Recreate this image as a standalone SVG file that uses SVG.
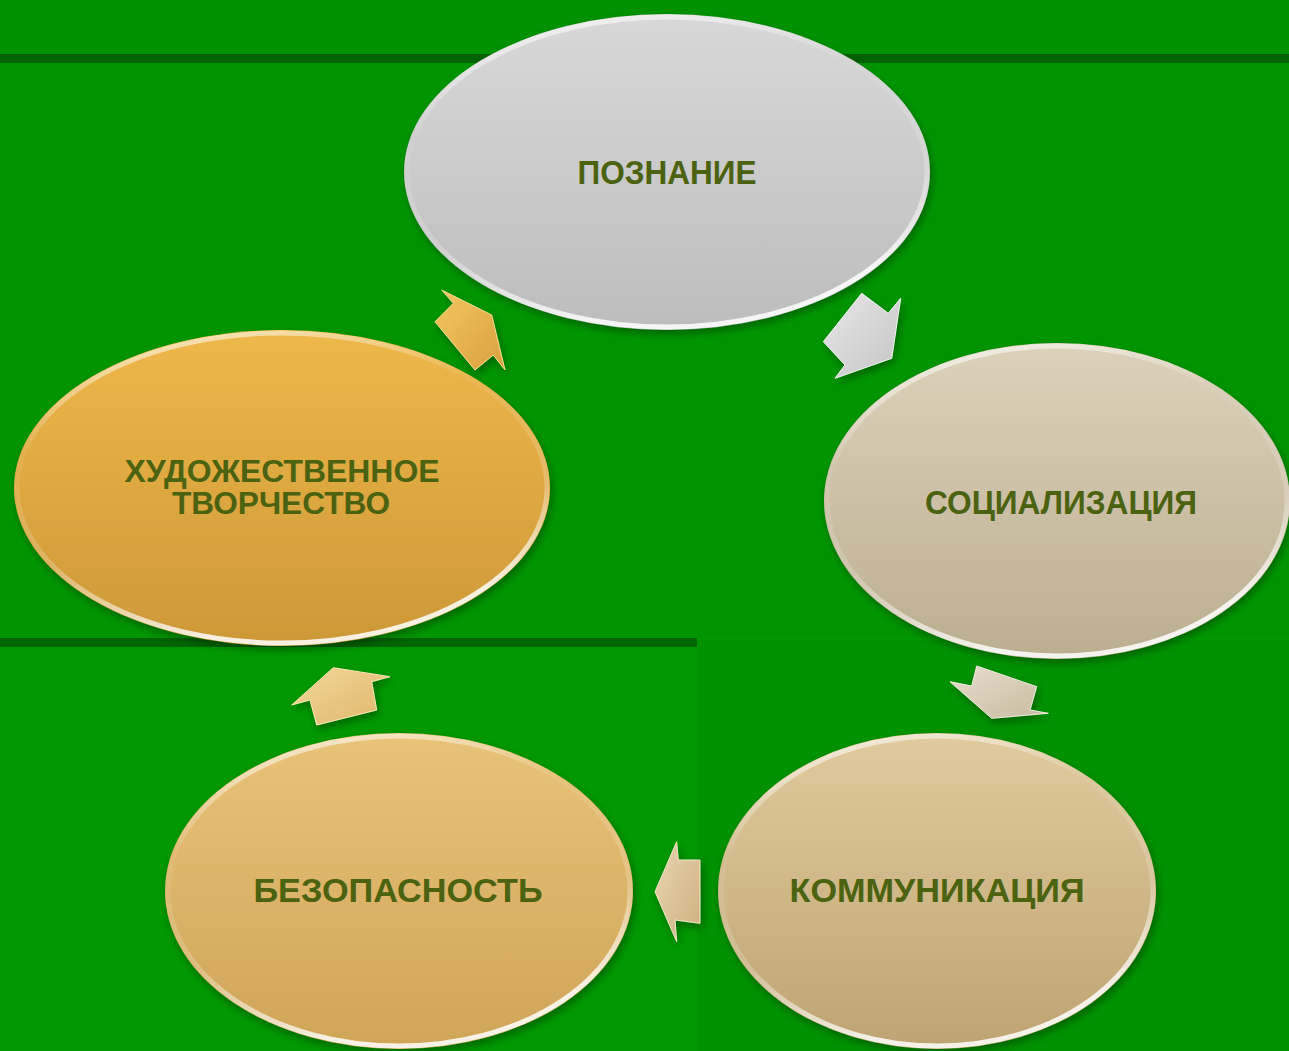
<svg xmlns="http://www.w3.org/2000/svg" width="1289" height="1051" viewBox="0 0 1289 1051">
<style>
.lbl{font-family:"Liberation Sans",Arial,sans-serif;font-weight:bold;font-size:33px;fill:#4b6210;text-anchor:middle;dominant-baseline:central}
.lbl2{font-family:"Liberation Sans",Arial,sans-serif;font-weight:bold;font-size:31px;fill:#4b6210;text-anchor:middle}
.rim{fill:none;stroke:url(#rimG);stroke-width:5}
.arr{filter:url(#sh)}
</style>
<defs>
<filter id="sh" x="-20%" y="-20%" width="140%" height="140%">
<feGaussianBlur in="SourceAlpha" stdDeviation="4"/>
<feOffset dx="2" dy="4" result="b"/>
<feComponentTransfer><feFuncA type="linear" slope="0.35"/></feComponentTransfer>
<feMerge><feMergeNode/><feMergeNode in="SourceGraphic"/></feMerge>
</filter>
<linearGradient id="rimG" x1="0" y1="0" x2="0.3" y2="1">
<stop offset="0" stop-color="#ffffff" stop-opacity="0.8"/>
<stop offset="0.35" stop-color="#ffffff" stop-opacity="0.05"/>
<stop offset="0.7" stop-color="#ffffff" stop-opacity="0.2"/>
<stop offset="1" stop-color="#ffffff" stop-opacity="0.85"/>
</linearGradient>
<linearGradient id="gGray" x1="0" y1="0" x2="0" y2="1">
<stop offset="0" stop-color="#d8d8d8"/><stop offset="1" stop-color="#bdbdbd"/>
</linearGradient>
<linearGradient id="gSoc" x1="0" y1="0" x2="0" y2="1">
<stop offset="0" stop-color="#dcd1bb"/><stop offset="1" stop-color="#bcae90"/>
</linearGradient>
<linearGradient id="gKom" x1="0" y1="0" x2="0" y2="1">
<stop offset="0" stop-color="#e0cb9e"/><stop offset="1" stop-color="#bea472"/>
</linearGradient>
<linearGradient id="gBez" x1="0" y1="0" x2="0" y2="1">
<stop offset="0" stop-color="#e9c379"/><stop offset="1" stop-color="#cfa558"/>
</linearGradient>
<linearGradient id="gHud" x1="0" y1="0" x2="0" y2="1">
<stop offset="0" stop-color="#eeb84a"/><stop offset="1" stop-color="#cd9838"/>
</linearGradient>
<linearGradient id="aGray" x1="0" y1="0" x2="1" y2="1">
<stop offset="0" stop-color="#e8e8e8"/><stop offset="1" stop-color="#c4c4c4"/>
</linearGradient>
<linearGradient id="aSoc" x1="0" y1="0" x2="1" y2="1">
<stop offset="0" stop-color="#e6ddcc"/><stop offset="1" stop-color="#c8bba0"/>
</linearGradient>
<linearGradient id="aKom" x1="0" y1="0" x2="1" y2="1">
<stop offset="0" stop-color="#ead6b0"/><stop offset="1" stop-color="#cdb080"/>
</linearGradient>
<linearGradient id="aBez" x1="0" y1="0" x2="1" y2="1">
<stop offset="0" stop-color="#f4d89a"/><stop offset="1" stop-color="#deb66a"/>
</linearGradient>
<linearGradient id="aHud" x1="0" y1="0" x2="1" y2="1">
<stop offset="0" stop-color="#f4c860"/><stop offset="1" stop-color="#d8a040"/>
</linearGradient>
</defs>

<g id="background">
<rect x="0" y="0" width="1289" height="1051" fill="#009800"/>
<rect x="0" y="0" width="1289" height="54" fill="#009200"/>
<rect x="0" y="54" width="1289" height="9" fill="#006200"/>
<rect x="0" y="63" width="1289" height="575" fill="#009500"/>
<rect x="0" y="638" width="697" height="9" fill="#006400"/>
<rect x="697" y="640" width="592" height="411" fill="#009200"/>
</g>

<g id="connectors">
<polygon class="arr" fill="url(#aHud)" stroke="#f8dc90" stroke-width="1" points="441.7,290 491.7,315 505,370 493.3,355 475,370 435,321.7 453.3,303.3"/>
<polygon class="arr" fill="url(#aGray)" stroke="#f4f4f4" stroke-width="1" points="861.7,293.3 888.3,313.3 900.7,298.3 891.7,358.3 835,378.3 845,365 823.3,341.7"/>
<polygon class="arr" fill="url(#aSoc)" stroke="#f0ebe0" stroke-width="1" points="950,681.7 971.7,686 976.7,666 1036.7,686.7 1030,710 1048.3,713.3 991.7,718.3"/>
<polygon class="arr" fill="url(#aKom)" stroke="#f4e6c8" stroke-width="1" points="676.7,841.7 678.3,860 700,860 700,923.3 675,920 676.7,941.7 655,891.7"/>
<polygon class="arr" fill="url(#aBez)" stroke="#fae6b8" stroke-width="1" points="291.7,705 310,700 316.7,725 376.7,710 371.7,681.7 390,676.7 333.3,667.7"/>
</g>

<g id="node-poznanie">
<ellipse cx="667" cy="172" rx="263" ry="158" fill="url(#gGray)" filter="url(#sh)"/>
<ellipse class="rim" cx="667" cy="172" rx="260" ry="155"/>
<text class="lbl" x="667" y="172" textLength="179" lengthAdjust="spacingAndGlyphs">ПОЗНАНИЕ</text>
</g>

<g id="node-socializacia">
<ellipse cx="1057" cy="501" rx="233" ry="158" fill="url(#gSoc)" filter="url(#sh)"/>
<ellipse class="rim" cx="1057" cy="501" rx="230" ry="155"/>
<text class="lbl" x="1061" y="502" textLength="272" lengthAdjust="spacingAndGlyphs">СОЦИАЛИЗАЦИЯ</text>
</g>

<g id="node-kommunikacia">
<ellipse cx="937" cy="891" rx="219" ry="158" fill="url(#gKom)" filter="url(#sh)"/>
<ellipse class="rim" cx="937" cy="891" rx="216" ry="155"/>
<text class="lbl" x="937" y="890" textLength="295" lengthAdjust="spacingAndGlyphs">КОММУНИКАЦИЯ</text>
</g>

<g id="node-bezopasnost">
<ellipse cx="399" cy="891" rx="234" ry="158" fill="url(#gBez)" filter="url(#sh)"/>
<ellipse class="rim" cx="399" cy="891" rx="231" ry="155"/>
<text class="lbl" x="398" y="890" textLength="289" lengthAdjust="spacingAndGlyphs">БЕЗОПАСНОСТЬ</text>
</g>

<g id="node-hudozhestvennoe">
<ellipse cx="282" cy="488" rx="268" ry="158" fill="url(#gHud)" filter="url(#sh)"/>
<ellipse class="rim" cx="282" cy="488" rx="265" ry="155"/>
<text class="lbl2" x="282" y="482" textLength="315" lengthAdjust="spacingAndGlyphs">ХУДОЖЕСТВЕННОЕ</text>
<text class="lbl2" x="281" y="514" textLength="218" lengthAdjust="spacingAndGlyphs">ТВОРЧЕСТВО</text>
</g>
</svg>
